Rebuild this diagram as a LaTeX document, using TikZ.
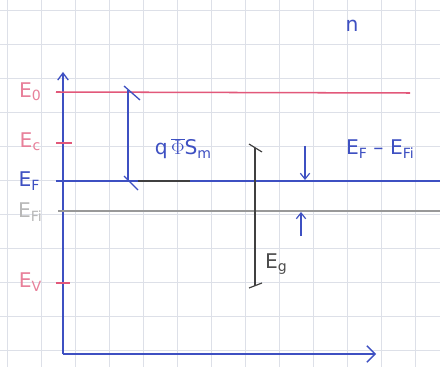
\documentclass[tikz,border=0pt]{standalone}
\usepackage{fontspec}
\setmainfont{DejaVu Sans}
\usetikzlibrary{arrows.meta,calc}
\definecolor{pinkred}{HTML}{E2587A}
\definecolor{pinklab}{HTML}{E8809A}
\definecolor{penblue}{HTML}{3E50C2}
\definecolor{grylab}{HTML}{B8B8B8}
\definecolor{gridc}{HTML}{DDE0E8}
\newcommand\mysb[1]{\raisebox{-0.3ex}{\large #1}}
\begin{document}
\begin{tikzpicture}[x=0.03cm,y=-0.03cm,
  lab/.style={font=\LARGE, inner sep=1pt},
  pink/.style={lab, text=pinklab},
  blu/.style={lab, text=penblue},
  gry/.style={lab, text=grylab},
  bluline/.style={draw=penblue, line width=1.1pt},
  redline/.style={draw=pinkred, line width=1.3pt},
  gryline/.style={draw=gray!80, line width=1.1pt},
  blkline/.style={draw=black!75, line width=1pt},
  arr/.style={-{Straight Barb[length=5pt,width=8pt]}, draw=penblue, line width=1pt}]
\useasboundingbox (0,0) rectangle (440,367);
\fill[white] (0,0) rectangle (440,367);
% paper grid
\foreach \gx in {7,41,...,440} \draw[gridc, line width=0.6pt] (\gx,0) -- (\gx,367);
\foreach \gy in {10,44,...,367} \draw[gridc, line width=0.6pt] (0,\gy) -- (440,\gy);
% axes
\coordinate (o) at (63,354);
\coordinate (ytop) at (63,72);
\coordinate (xend) at (376,354);
\draw[bluline, -{Straight Barb[length=6pt,width=9pt]}] (o) -- (ytop);
\draw[bluline, -{Straight Barb[length=7pt,width=14pt]}] (o) -- (xend);
% levels
\coordinate (e0a) at (56,92);  \coordinate (e0b) at (410,93);
\coordinate (eca) at (56,143); \coordinate (ecb) at (72,143);
\coordinate (efa) at (56,181); \coordinate (efb) at (440,181);
\coordinate (efia) at (58,211); \coordinate (efib) at (440,211);
\coordinate (eva) at (56,283); \coordinate (evb) at (70,283);
\draw[redline] (e0a) -- (e0b);
\draw[redline, line width=1.1pt] (eca) -- (ecb);
\draw[bluline] (efa) -- (efb);
\draw[gryline] (efia) -- (efib);
\draw[redline, line width=1.1pt] (eva) -- (evb);
\coordinate (bk1) at (138,181); \coordinate (bk2) at (190,181);
\draw[blkline, line width=1.3pt] (bk1) -- (bk2);
\node[pink] (lE0) at (30,92) {E\mysb{0}};
\node[pink] (lEc) at (30,142) {E\mysb{c}};
\node[blu]  (lEF) at (29,181) {E\mysb{F}};
\node[gry]  (lEFi) at (30,212) {E\mysb{Fi}};
\node[pink] (lEv) at (30,282) {E\mysb{V}};
% q Phi Sm bracket
\coordinate (q1) at (128,90); \coordinate (q2) at (128,182);
\draw[bluline] (q1) -- (q2);
\draw[bluline] ($(q1)+(-4,-4)$) -- ($(q1)+(12,10)$);
\draw[bluline] ($(q2)+(-4,-6)$) -- ($(q2)+(10,8)$);
\node[blu] (lq) at (183,149) {q\,$\overline{\Phi}$S\mysb{m}};
% Eg bracket
\coordinate (g1) at (255,148); \coordinate (g2) at (255,286);
\draw[blkline] (g1) -- (g2);
\draw[blkline] ($(g1)+(-6,-4)$) -- ($(g1)+(7,4)$);
\draw[blkline] ($(g2)+(-6,2)$) -- ($(g2)+(7,-3)$);
\node[lab, text=black!70] (lEg) at (276,264) {E\mysb{g}};
% EF - EFi arrows
\coordinate (da) at (305,146); \coordinate (db) at (305,180);
\coordinate (ua) at (301,236); \coordinate (ub) at (301,212);
\draw[arr] (da) -- (db);
\draw[arr] (ua) -- (ub);
\node[blu] (ldiff) at (380,149) {E\mysb{F} -- E\mysb{Fi}};
\node[blu, font=\LARGE] (ln) at (352,26) {n};
\end{tikzpicture}
\end{document}
